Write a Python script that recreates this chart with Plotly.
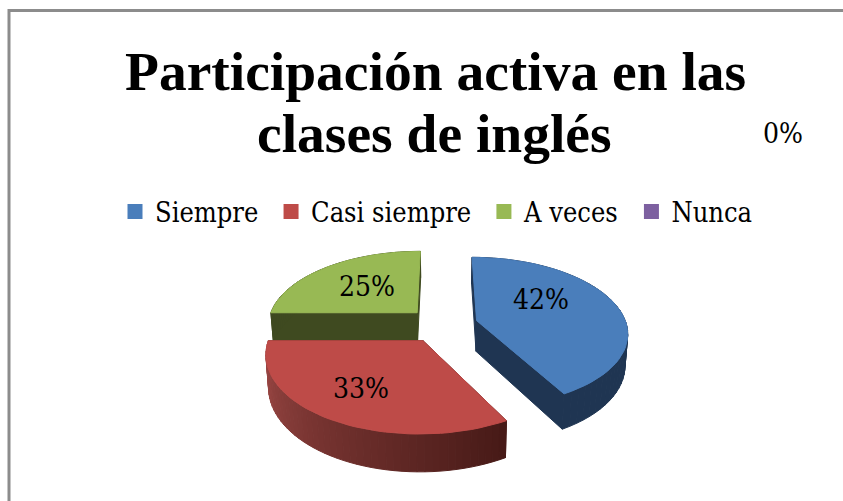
import math
import plotly.graph_objects as go

# --- data ---
categories = ["Siempre", "Casi siempre", "A veces", "Nunca"]
values = [42, 33, 25, 0]
labels = ["42%", "33%", "25%", "0%"]
top_colors = ["#4a7ebb", "#be4b48", "#98b954", "#7d60a0"]
side_colors = ["#1f3552", None, "#3f4a20", "#3d2c52"]
title_lines = ["Participación activa en las", "clases de inglés"]

# --- view of the tilted pie ---
CX, CY = 442, 325
RX, RY = 150, 74
PERSP = 0.15
DEPTH = 31
EXPLODE = 0.24


def project(gx, gy, z=0.0):
    w = 1 + PERSP * gy
    shrink = 1 - 0.015 * z
    return CX + RX * gx / w * shrink, CY - RY * gy / w + DEPTH * z / w


def polar(a):
    return math.sin(a), math.cos(a)


def poly(points, color):
    xs = [p[0] for p in points] + [points[0][0]]
    ys = [p[1] for p in points] + [points[0][1]]
    return go.Scatter(x=xs, y=ys, mode="lines", fill="toself", fillcolor=color,
                      line=dict(color=color, width=1), hoverinfo="skip",
                      showlegend=False)


def lerp_hex(c1, c2, t):
    a = [int(c1[i:i + 2], 16) for i in (1, 3, 5)]
    b = [int(c2[i:i + 2], 16) for i in (1, 3, 5)]
    return "#%02x%02x%02x" % tuple(round(u + (v - u) * t) for u, v in zip(a, b))


fig = go.Figure()
total = sum(values)
spans = []
start = 0.0
for v in values:
    end = start + v / total * 2 * math.pi
    spans.append((start, end))
    start = end

for idx in (2, 0, 1):   # back to front
    a0, a1 = spans[idx]
    mid = (a0 + a1) / 2
    ox, oy = polar(mid)
    ox, oy = ox * EXPLODE, oy * EXPLODE
    n = 48
    angles = [a0 + (a1 - a0) * i / n for i in range(n + 1)]
    ground = [(ox + polar(a)[0], oy + polar(a)[1]) for a in angles]

    def face_color(i):
        if side_colors[idx] is not None:
            return side_colors[idx]
        return lerp_hex("#a64d4a", "#471a17", (i / (n - 1)) ** 0.9)

    base = side_colors[idx] or "#471a17"
    for g in (ground[0], ground[-1]):
        fig.add_trace(poly([project(ox, oy), project(*g), project(*g, 1), project(ox, oy, 1)], base))
    order = range(n - 1, -1, -1) if idx == 1 else range(n)
    for i in order:
        g0, g1 = ground[i], ground[i + 1]
        fig.add_trace(poly([project(*g0), project(*g1), project(*g1, 1), project(*g0, 1)],
                           face_color(n - 1 - i)))
    fig.add_trace(poly([project(ox, oy)] + [project(*g) for g in ground], top_colors[idx]))

for name, col in zip(categories, top_colors):
    fig.add_trace(go.Scatter(x=[None], y=[None], mode="markers", name=name + "\u00a0",
                             marker=dict(symbol="square", size=15, color=col)))

BODY = "DejaVu Serif Condensed"
HEAD = "Liberation Serif"
fig.add_trace(go.Scatter(
    x=[541, 361, 367, 783], y=[302, 391, 289, 136], mode="text", text=labels,
    textfont=dict(family=BODY, size=28, color="#000000"),
    hoverinfo="skip", showlegend=False))

fig.update_layout(
    width=843, height=501, autosize=False,
    margin=dict(l=0, r=0, t=0, b=0),
    paper_bgcolor="white", plot_bgcolor="white",
    xaxis=dict(range=[0, 843], visible=False, fixedrange=True),
    yaxis=dict(range=[501, 0], visible=False, fixedrange=True),
    annotations=[
        dict(text=title_lines[0], x=435, y=71, xref="x", yref="y", showarrow=False,
             xanchor="center", yanchor="middle",
             font=dict(family=HEAD, size=55.5, color="#000000", weight="bold")),
        dict(text=title_lines[1], x=434, y=133, xref="x", yref="y", showarrow=False,
             xanchor="center", yanchor="middle",
             font=dict(family=HEAD, size=55.5, color="#000000", weight="bold")),
    ],
    legend=dict(orientation="h", x=440 / 843, xanchor="center", y=1 - 212 / 501, yanchor="middle",
                font=dict(family=BODY, size=27, color="#000000"), bgcolor="rgba(0,0,0,0)",
                itemwidth=30),
    shapes=[dict(type="path", xref="x", yref="y",
                 path="M 9 501 L 9 10.5 L 843 10.5",
                 line=dict(color="#8c8c8c", width=3))],
)
fig.write_html("out.html", config=dict(displayModeBar=False),
               post_script="document.body.style.margin='0';document.body.style.overflow='hidden';")
